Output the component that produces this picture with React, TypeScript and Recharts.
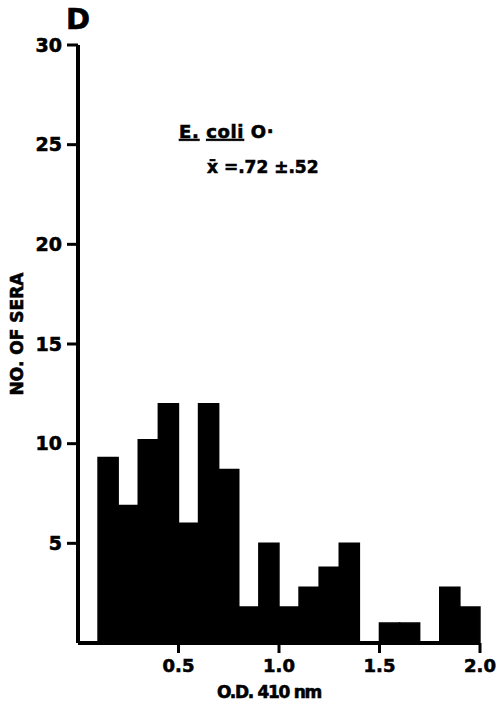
import { BarChart, Bar, XAxis, YAxis, Customized } from 'recharts';

// O.D. bins (0.1 wide), given by their centres
const binCenters = [
  0.05, 0.15, 0.25, 0.35, 0.45, 0.55, 0.65, 0.75, 0.85, 0.95,
  1.05, 1.15, 1.25, 1.35, 1.45, 1.55, 1.65, 1.75, 1.85, 1.95,
];
// number of sera per bin
const seraCounts = [
  0, 9.3, 6.9, 10.2, 12, 6, 12, 8.7, 1.8, 5,
  1.8, 2.8, 3.8, 5, 0, 1, 1, 0, 2.8, 1.8,
];
const xTicks = [0.5, 1.0, 1.5, 2.0];
const yTicks = [5, 10, 15, 20, 25, 30];

const data = binCenters.map((od, i) => ({ od, sera: seraCounts[i] }));

const FONT = '"DejaVu Sans", "Liberation Sans", sans-serif';
// thin outline so the printed-looking type comes out heavier
const heavy = { stroke: '#000', strokeWidth: 0.6 };

function Annotations() {
  return (
    <g fontFamily={FONT} fontWeight="bold" fill="#000" {...heavy}>
      <text x={66} y={29} fontSize={29}>D</text>
      <text
        x={17}
        y={334}
        fontSize={17}
        textAnchor="middle"
        dominantBaseline="central"
        transform="rotate(-90 17 334)"
      >
        NO. OF SERA
      </text>
      <text x={269} y={698} fontSize={17} textAnchor="middle" letterSpacing={-1.3}>
        O.D. 410 nm
      </text>
      <text x={179} y={138} fontSize={18} letterSpacing={0.6}>
        <tspan textDecoration="underline">E.</tspan>{' '}
        <tspan textDecoration="underline">coli</tspan> O·
      </text>
      <text x={207} y={173} fontSize={17}>
        x̄ =.72 ±.52
      </text>
    </g>
  );
}

export default function App() {
  return (
    <div style={{ position: 'absolute', left: 0, top: 0, background: '#fff' }}>
      <BarChart
        width={497}
        height={705}
        data={data}
        barCategoryGap={0}
        barGap={0}
        margin={{ top: 45, right: 17, bottom: 0, left: 0 }}
      >
        <XAxis
          type="number"
          dataKey="od"
          domain={[0, 2]}
          ticks={xTicks}
          tickFormatter={(v: number) => v.toFixed(1)}
          height={62}
          axisLine={{ stroke: '#000', strokeWidth: 4 }}
          tickLine={{ stroke: '#000', strokeWidth: 3 }}
          tickSize={10}
          tickMargin={6}
          tick={{ fill: '#000', fontSize: 18, fontWeight: 'bold', fontFamily: FONT, ...heavy }}
        />
        <YAxis
          type="number"
          domain={[0, 30]}
          ticks={yTicks}
          width={78}
          axisLine={{ stroke: '#000', strokeWidth: 4 }}
          tickLine={{ stroke: '#000', strokeWidth: 3 }}
          tickSize={11}
          tickMargin={5}
          tick={{ fill: '#000', fontSize: 19, fontWeight: 'bold', fontFamily: FONT, ...heavy }}
        />
        {/* bins share edges; the outline closes antialiasing seams between them */}
        <Bar dataKey="sera" fill="#000" stroke="#000" strokeWidth={1.6} isAnimationActive={false} />
        <Customized component={Annotations} />
      </BarChart>
    </div>
  );
}
